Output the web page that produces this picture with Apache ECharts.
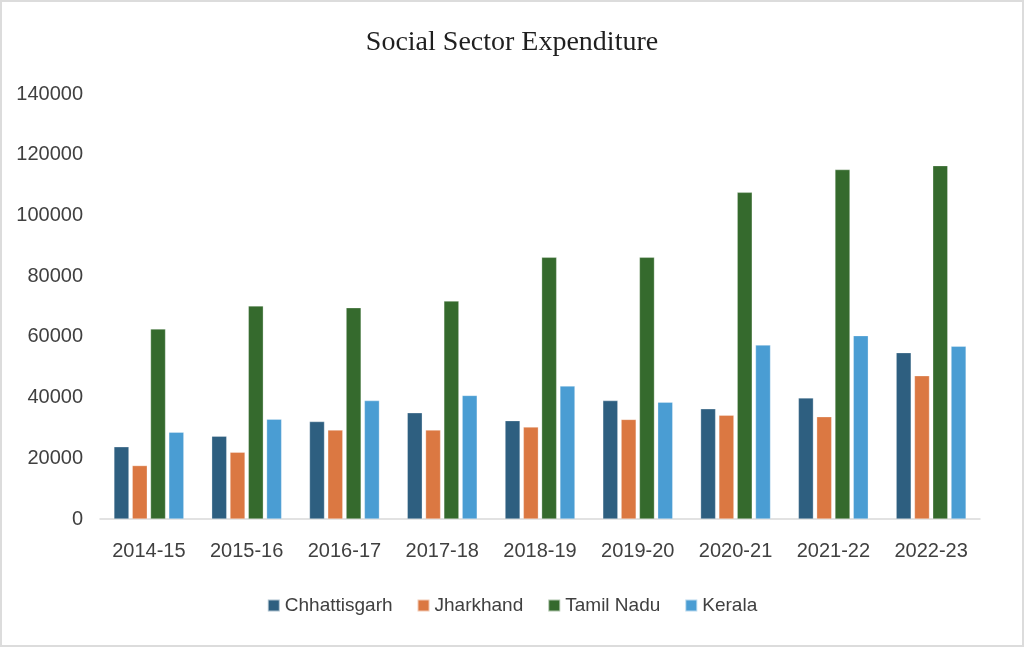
<!DOCTYPE html>
<html>
<head>
<meta charset="utf-8">
<script src="https://cdn.jsdelivr.net/npm/echarts@6/dist/echarts.min.js"></script>
<style>
  html, body { margin: 0; padding: 0; background: #fff; }
  #frame { position: absolute; left: 0; top: 0; width: 1024px; height: 647px; box-sizing: border-box; border: 2px solid #dcdcdc; }
  #chart { position: absolute; left: 0; top: 0; width: 1024px; height: 647px; }
</style>
</head>
<body>
<div id="chart"></div>
<div id="frame"></div>
<script>
const years = ['2014-15','2015-16','2016-17','2017-18','2018-19','2019-20','2020-21','2021-22','2022-23'];
const chhattisgarh = [23800, 27300, 32100, 35000, 32400, 39000, 36300, 39900, 54800];
const jharkhand    = [17600, 22000, 29300, 29300, 30300, 32800, 34200, 33700, 47200];
const tamilNadu    = [62600, 70200, 69600, 71800, 86200, 86200, 107600, 115100, 116400];
const kerala       = [28600, 32900, 39000, 40700, 43800, 38500, 57300, 60400, 56900];
const yTicks = [0, 20000, 40000, 60000, 80000, 100000, 120000, 140000];

const colors = ['#2E5F80', '#DB7842', '#356A2D', '#4A9DD3'];
const names = ['Chhattisgarh', 'Jharkhand', 'Tamil Nadu', 'Kerala'];
const seriesData = [chhattisgarh, jharkhand, tamilNadu, kerala];

const chart = echarts.init(document.getElementById('chart'), null, { renderer: 'canvas' });
chart.setOption({
  animation: false,
  backgroundColor: '#fff',
  title: {
    text: 'Social Sector Expenditure',
    left: 'center',
    top: 24,
    textStyle: { fontFamily: 'Liberation Serif', fontSize: 28, fontWeight: 'normal', color: '#1f1f1f' }
  },
  legend: {
    data: names,
    bottom: 27,
    left: 'center',
    icon: 'rect',
    itemWidth: 12,
    itemHeight: 12,
    itemGap: 24,
    textStyle: { fontFamily: 'Liberation Sans', fontSize: 19, color: '#404040' }
  },
  grid: { left: 100, right: 44, top: 94, bottom: 128, containLabel: false },
  xAxis: {
    type: 'category',
    data: years,
    axisLine: { lineStyle: { color: '#d9d9d9', width: 1.5 } },
    axisTick: { show: false },
    axisLabel: { fontFamily: 'Liberation Sans', fontSize: 20, color: '#404040', margin: 22 }
  },
  yAxis: {
    type: 'value',
    min: yTicks[0],
    max: yTicks[yTicks.length - 1],
    interval: 20000,
    axisLine: { show: false },
    axisTick: { show: false },
    splitLine: { show: false },
    axisLabel: {
      fontFamily: 'Liberation Sans', fontSize: 20, color: '#404040', margin: 17,
      formatter: v => String(v)
    }
  },
  series: seriesData.map((d, i) => ({
    name: names[i],
    type: 'bar',
    data: d,
    barWidth: 15,
    barGap: '22%',
    itemStyle: { color: colors[i], borderColor: 'rgba(255,255,255,0.6)', borderWidth: 0.5 }
  }))
});
</script>
</body>
</html>
